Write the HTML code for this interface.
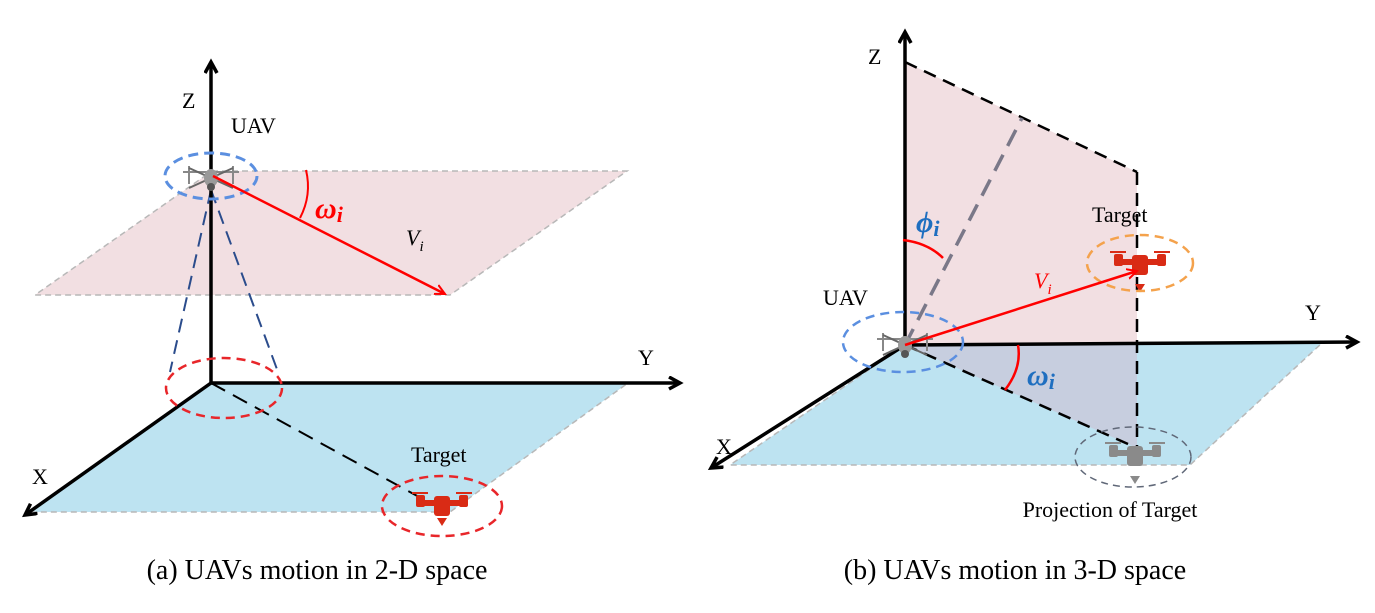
<!DOCTYPE html>
<html><head><meta charset="utf-8"><style>
html,body{margin:0;padding:0;background:#fff;}
svg{display:block;}
text{font-family:"Liberation Serif",serif;}
</style></head><body>
<svg width="1375" height="613" viewBox="0 0 1375 613" xmlns="http://www.w3.org/2000/svg">
<defs>
<marker id="ab" markerWidth="16" markerHeight="16" refX="12" refY="7" orient="auto" markerUnits="userSpaceOnUse"><path d="M1,1 L12,7 L1,13" fill="none" stroke="#000" stroke-width="3.5"/></marker>
<marker id="ar" markerWidth="12" markerHeight="12" refX="10" refY="6" orient="auto" markerUnits="userSpaceOnUse"><path d="M0,1 L10,6 L0,11" fill="none" stroke="#f00" stroke-width="2"/></marker>
<g id="gd">
<path d="M-28,-6 L28,-6 M-22,-12 L-22,6 M22,-12 L22,6" stroke="#888" stroke-width="2" fill="none"/>
<line x1="-22" y1="-10" x2="22" y2="10" stroke="#666" stroke-width="2"/>
<line x1="-22" y1="10" x2="22" y2="-10" stroke="#666" stroke-width="2"/>
<ellipse cx="0" cy="0" rx="7" ry="9" fill="#999"/>
<circle cx="0" cy="9" r="4" fill="#555"/>
</g>
<g id="rd">
<rect x="-30" y="-11" width="16" height="2" />
<rect x="14" y="-11" width="16" height="2" />
<rect x="-26" y="-8" width="9" height="12" rx="2"/>
<rect x="17" y="-8" width="9" height="12" rx="2"/>
<rect x="-20" y="-3" width="40" height="6"/>
<rect x="-8" y="-7" width="16" height="20" rx="3"/>
</g>
</defs>

<!-- ===== Left panel ===== -->
<polygon points="212,171 627,171 450,295 35,295" fill="#f2dfe2" stroke="#b8b8b8" stroke-width="1.5" stroke-dasharray="6,4"/>
<polygon points="211,383 628,383 450,512 30,512" fill="#bde3f1" stroke="#b8b8b8" stroke-width="1.5" stroke-dasharray="6,4"/>
<line x1="211" y1="190" x2="170" y2="372" stroke="#2b4c8c" stroke-width="2" stroke-dasharray="14,8"/>
<line x1="211" y1="190" x2="278" y2="372" stroke="#2b4c8c" stroke-width="2" stroke-dasharray="14,8"/>
<line x1="211" y1="383" x2="430" y2="503" stroke="#000" stroke-width="2" stroke-dasharray="16,9"/>
<line x1="211" y1="383" x2="211" y2="62" stroke="#000" stroke-width="3.5" marker-end="url(#ab)"/>
<line x1="211" y1="383" x2="680" y2="383" stroke="#000" stroke-width="3.5" marker-end="url(#ab)"/>
<line x1="211" y1="383" x2="25" y2="515" stroke="#000" stroke-width="3.5" marker-end="url(#ab)"/>
<ellipse cx="224" cy="388" rx="58" ry="30" fill="none" stroke="#e8262a" stroke-width="2.5" stroke-dasharray="9,6"/>
<use href="#gd" x="211" y="178"/>
<ellipse cx="211" cy="176" rx="46" ry="23" fill="none" stroke="#5b8fe0" stroke-width="3" stroke-dasharray="10,6"/>
<line x1="213" y1="176" x2="445" y2="294" stroke="#f00" stroke-width="2.5" marker-end="url(#ar)"/>
<path d="M306,170 Q312,195 300,218" fill="none" stroke="#f00" stroke-width="2"/>
<text x="182" y="108" font-size="22">Z</text>
<text x="231" y="133" font-size="22">UAV</text>
<text x="638" y="365" font-size="22">Y</text>
<text x="32" y="484" font-size="22">X</text>
<text x="315" y="218" font-size="30" font-style="italic" font-weight="bold" fill="#f00">ω<tspan font-size="22" dy="4">i</tspan></text>
<text x="406" y="245" font-size="22" font-style="italic">V<tspan font-size="15" dy="6">i</tspan></text>
<text x="411" y="462" font-size="22">Target</text>
<use href="#rd" x="442" y="503" fill="#d92b15"/>
<path d="M437,518 L447,518 L442,526 Z" fill="#d92b15"/>
<ellipse cx="442" cy="506" rx="60" ry="30" fill="none" stroke="#e8262a" stroke-width="2.5" stroke-dasharray="9,6"/>
<text x="317" y="579" font-size="28" text-anchor="middle">(a) UAVs motion in 2-D space</text>

<!-- ===== Right panel ===== -->
<polygon points="905,345 1322,343 1190,465 730,465" fill="#bde3f1" stroke="#b8b8b8" stroke-width="1.5" stroke-dasharray="6,4"/>
<polygon points="905,62 1137,172 1137,345 905,345" fill="#f2dfe2"/>
<polygon points="905,345 1137,345 1137,448" fill="#c7cedf"/>
<line x1="905" y1="62" x2="1137" y2="172" stroke="#000" stroke-width="2.5" stroke-dasharray="13,8"/>
<line x1="1137" y1="172" x2="1137" y2="448" stroke="#000" stroke-width="2.5" stroke-dasharray="13,8"/>
<line x1="905" y1="345" x2="1137" y2="448" stroke="#000" stroke-width="2.5" stroke-dasharray="13,8"/>
<line x1="905" y1="345" x2="1022" y2="118" stroke="#7a7888" stroke-width="3.5" stroke-dasharray="18,10"/>
<line x1="905" y1="345" x2="905" y2="32" stroke="#000" stroke-width="3.5" marker-end="url(#ab)"/>
<line x1="905" y1="345" x2="1357" y2="342" stroke="#000" stroke-width="3.5" marker-end="url(#ab)"/>
<line x1="905" y1="345" x2="711" y2="468" stroke="#000" stroke-width="3.5" marker-end="url(#ab)"/>
<path d="M903,240 Q928,243 943,258" fill="none" stroke="#f00" stroke-width="2.5"/>
<path d="M1018,345 Q1022,368 1005,390" fill="none" stroke="#f00" stroke-width="2.5"/>
<use href="#gd" x="905" y="345"/>
<ellipse cx="903" cy="342" rx="60" ry="30" fill="none" stroke="#5b8fe0" stroke-width="2.5" stroke-dasharray="9,6"/>
<use href="#rd" x="1140" y="262" fill="#d92b15"/>
<path d="M1135,284 L1145,284 L1140,292 Z" fill="#d92b15"/>
<ellipse cx="1140" cy="263" rx="53" ry="28" fill="none" stroke="#f4a24c" stroke-width="2.5" stroke-dasharray="9,6"/>
<use href="#rd" x="1135" y="453" fill="#8a8a8a"/>
<path d="M1130,476 L1140,476 L1135,484 Z" fill="#8a8a8a"/>
<ellipse cx="1133" cy="457" rx="58" ry="30" fill="none" stroke="#606878" stroke-width="1.5" stroke-dasharray="7,5"/>
<line x1="905" y1="345" x2="1137" y2="271" stroke="#f00" stroke-width="2.5" marker-end="url(#ar)"/>
<text x="868" y="64" font-size="22">Z</text>
<text x="1305" y="320" font-size="22">Y</text>
<text x="716" y="454" font-size="22">X</text>
<text x="823" y="305" font-size="22">UAV</text>
<text x="1092" y="222" font-size="22">Target</text>
<text x="916" y="232" font-size="30" font-style="italic" font-weight="bold" fill="#1f6fc0">ϕ<tspan font-size="22" dy="4">i</tspan></text>
<text x="1027" y="385" font-size="30" font-style="italic" font-weight="bold" fill="#1f6fc0">ω<tspan font-size="22" dy="4">i</tspan></text>
<text x="1034" y="288" font-size="22" font-style="italic" fill="#f00">V<tspan font-size="15" dy="6">i</tspan></text>
<text x="1110" y="517" font-size="22" text-anchor="middle">Projection of Target</text>
<text x="1015" y="579" font-size="28" text-anchor="middle">(b) UAVs motion in 3-D space</text>
</svg>
</body></html>
